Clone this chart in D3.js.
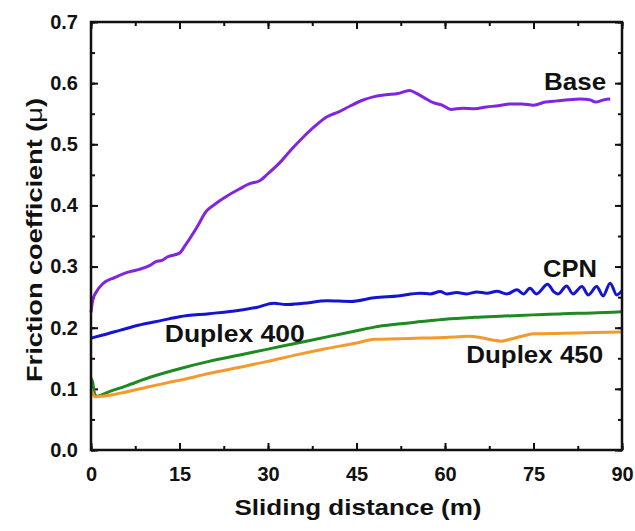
<!DOCTYPE html>
<html>
<head>
<meta charset="utf-8">
<script src="https://cdn.jsdelivr.net/npm/d3@7"></script>
<style>
  body { margin: 0; background: #fff; }
  svg { display: block; font-family: "Liberation Sans", Arial, sans-serif; font-weight: bold; }
  .label { font-size: 24px; fill: #111; }
  .title { font-size: 22px; fill: #111; }
</style>
</head>
<body>
<svg width="635" height="531"></svg>
<script>
// begin: data
var baseX = [0, 0.3, 1, 2, 4, 6, 8, 10, 11, 12, 13, 15, 16, 18, 19.5, 21, 23, 25, 27, 28.5, 30, 32, 34, 36, 38, 40, 42, 44, 46, 48, 50, 52, 54, 55, 56.5, 58, 59.5, 61, 63, 65, 67, 69, 71, 73, 75, 77, 79, 81, 83, 84.5, 85.5, 87, 88];
var baseY = [0.225, 0.245, 0.26, 0.272, 0.282, 0.29, 0.295, 0.302, 0.308, 0.31, 0.316, 0.322, 0.335, 0.365, 0.39, 0.402, 0.415, 0.426, 0.436, 0.44, 0.452, 0.47, 0.492, 0.512, 0.53, 0.545, 0.553, 0.563, 0.572, 0.578, 0.581, 0.583, 0.588, 0.584, 0.576, 0.568, 0.564, 0.557, 0.559, 0.558, 0.561, 0.563, 0.566, 0.566, 0.564, 0.569, 0.571, 0.573, 0.574, 0.573, 0.569, 0.573, 0.574];

var cpnX = [0, 2, 5, 8, 12, 15, 20, 24, 28, 31, 33, 36, 40, 44, 48, 52, 55.8, 57.5, 59.2, 60.3, 62.0, 63.7, 65.4, 67.1, 68.8, 70.5, 72.2, 73.3, 74.4, 75.5, 77.4, 78.4, 79.2, 80.6, 81.7, 83.2, 84.3, 85.7, 86.8, 88.0, 89.1, 90];
var cpnY = [0.183, 0.188, 0.196, 0.204, 0.212, 0.218, 0.223, 0.227, 0.233, 0.240, 0.238, 0.240, 0.244, 0.243, 0.249, 0.252, 0.2564, 0.2553, 0.2591, 0.2553, 0.2575, 0.2553, 0.2586, 0.2564, 0.2597, 0.2553, 0.2619, 0.2553, 0.2646, 0.2553, 0.2712, 0.2591, 0.2553, 0.2684, 0.2553, 0.2673, 0.2537, 0.2673, 0.252, 0.2728, 0.2537, 0.2607];

var d400X = [0, 0.3, 0.6, 1, 3, 6, 10, 15, 20, 25, 30, 35, 40, 45, 48, 52, 56, 60, 65, 70, 75, 80, 85, 90];
var d400Y = [0.118, 0.11, 0.092, 0.088, 0.095, 0.105, 0.119, 0.133, 0.145, 0.155, 0.165, 0.175, 0.185, 0.195, 0.201, 0.206, 0.210, 0.214, 0.217, 0.219, 0.221, 0.223, 0.224, 0.226];

var d450X = [0, 0.3, 0.8, 2, 5, 10, 15, 20, 25, 30, 35, 40, 45, 48, 52, 56, 60, 64, 66, 68, 69.5, 71, 73, 75, 80, 85, 90];
var d450Y = [0.1, 0.092, 0.087, 0.088, 0.093, 0.104, 0.114, 0.125, 0.135, 0.145, 0.156, 0.166, 0.175, 0.181, 0.182, 0.183, 0.184, 0.186, 0.184, 0.18, 0.178, 0.181, 0.186, 0.19, 0.191, 0.192, 0.193];

var xTicks = [0, 15, 30, 45, 60, 75, 90];
var yTicks = [0, 0.1, 0.2, 0.3, 0.4, 0.5, 0.6, 0.7];
// end: data

var series = [
  {name: "Base", xs: baseX, ys: baseY, color: "#8126e0"},
  {name: "CPN", xs: cpnX, ys: cpnY, color: "#1414d2"},
  {name: "Duplex 400", xs: d400X, ys: d400Y, color: "#1f8a22"},
  {name: "Duplex 450", xs: d450X, ys: d450Y, color: "#f29a2e"}
];

// label spots in data units, placed by eye
var labelPos = {
  "Base": [76.8, 0.589, 62],
  "CPN": [76.6, 0.283, 54],
  "Duplex 400": [12.5, 0.177, 140],
  "Duplex 450": [63.6, 0.142, 137]
};

//begin: layout conf.
var plotLeft = 91, plotRight = 622, plotTop = 22, plotBottom = 450;
//end: layout conf.

var x = d3.scaleLinear().domain([0, 90]).range([plotLeft, plotRight]);
var y = d3.scaleLinear().domain([0, 0.7]).range([plotBottom, plotTop]);

var svg = d3.select("svg");

var minorX = d3.range(0, 90.01, 7.5);
var minorY = d3.range(0, 0.701, 0.05);

function styleAxis(g) {
  g.select(".domain").remove();
  g.attr("font-family", null).attr("font-size", null);
  g.selectAll(".tick line").attr("stroke", "#111").attr("stroke-width", 2);
  g.selectAll(".tick text")
    .style("font-family", "'Liberation Sans', Arial, sans-serif")
    .style("font-size", "20px")
    .style("font-weight", "bold")
    .style("fill", "#111");
}

// bottom
svg.append("g").attr("transform", "translate(0," + plotBottom + ")")
  .call(d3.axisBottom(x).tickValues(minorX).tickSize(-4).tickFormat(""))
  .call(styleAxis);
svg.append("g").attr("transform", "translate(0," + plotBottom + ")")
  .call(d3.axisBottom(x).tickValues(xTicks).tickSize(-7).tickPadding(17).tickFormat(d3.format("d")))
  .call(styleAxis);
// top
svg.append("g").attr("transform", "translate(0," + plotTop + ")")
  .call(d3.axisTop(x).tickValues(minorX).tickSize(-4).tickFormat(""))
  .call(styleAxis);
svg.append("g").attr("transform", "translate(0," + plotTop + ")")
  .call(d3.axisTop(x).tickValues(xTicks).tickSize(-7).tickFormat(""))
  .call(styleAxis);
// left
svg.append("g").attr("transform", "translate(" + plotLeft + ",0)")
  .call(d3.axisLeft(y).tickValues(minorY).tickSize(-4).tickFormat(""))
  .call(styleAxis);
svg.append("g").attr("transform", "translate(" + plotLeft + ",0)")
  .call(d3.axisLeft(y).tickValues(yTicks).tickSize(-7).tickPadding(13).tickFormat(d3.format(".1f")))
  .call(styleAxis);
// right
svg.append("g").attr("transform", "translate(" + plotRight + ",0)")
  .call(d3.axisRight(y).tickValues(minorY).tickSize(-4).tickFormat(""))
  .call(styleAxis);
svg.append("g").attr("transform", "translate(" + plotRight + ",0)")
  .call(d3.axisRight(y).tickValues(yTicks).tickSize(-7).tickFormat(""))
  .call(styleAxis);

var line = d3.line()
  .x(function(d){ return x(d[0]); })
  .y(function(d){ return y(d[1]); })
  .curve(d3.curveMonotoneX);

svg.append("g").selectAll("path")
  .data(series)
  .enter().append("path")
    .attr("fill", "none")
    .attr("stroke", function(d){ return d.color; })
    .attr("stroke-width", 3)
    .attr("stroke-linejoin", "round")
    .attr("d", function(d){ return line(d3.zip(d.xs, d.ys)); });

// frame
svg.append("rect")
  .attr("x", plotLeft).attr("y", plotTop)
  .attr("width", plotRight - plotLeft).attr("height", plotBottom - plotTop)
  .attr("fill", "none").attr("stroke", "#111").attr("stroke-width", 2.5);

// series labels
svg.append("g").selectAll("text")
  .data(series)
  .enter().append("text")
    .classed("label", true)
    .attr("x", function(d){ return x(labelPos[d.name][0]); })
    .attr("y", function(d){ return y(labelPos[d.name][1]); })
    .attr("textLength", function(d){ return labelPos[d.name][2]; })
    .attr("lengthAdjust", "spacingAndGlyphs")
    .text(function(d){ return d.name; });

// axis titles
svg.append("text")
  .classed("title", true)
  .attr("x", 358).attr("y", 515)
  .attr("text-anchor", "middle")
  .attr("textLength", 247)
  .attr("lengthAdjust", "spacingAndGlyphs")
  .text("Sliding distance (m)");

var yt = svg.append("text")
  .classed("title", true)
  .attr("transform", "translate(42,240) rotate(-90)")
  .attr("text-anchor", "middle")
  .attr("textLength", 284)
  .attr("lengthAdjust", "spacingAndGlyphs");
yt.append("tspan").text("Friction coefficient (");
yt.append("tspan").attr("font-weight", "normal").text("\u03bc");
yt.append("tspan").text(")");
</script>
</body>
</html>
